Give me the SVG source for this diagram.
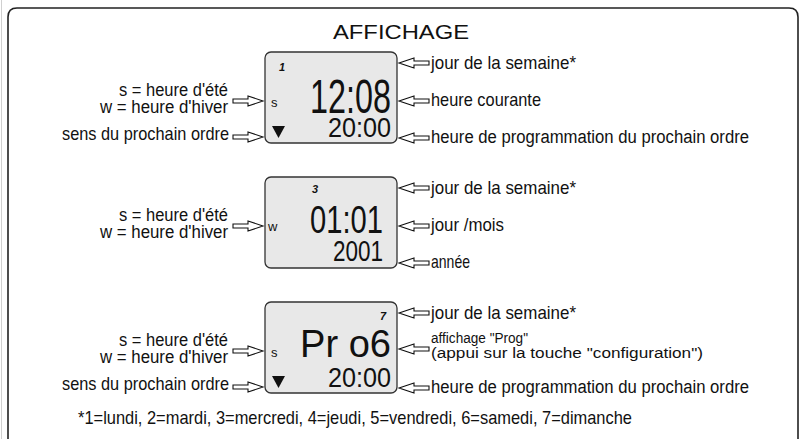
<svg xmlns="http://www.w3.org/2000/svg" width="804" height="439" viewBox="0 0 804 439">
<defs>
<style>
.lbl{font-family:"Liberation Sans Narrow","Liberation Sans",Arial,sans-serif;font-size:19px;fill:#111}
.lng{font-family:"Liberation Sans Narrow","Liberation Sans",Arial,sans-serif;font-size:18px;fill:#111}
.lb2{font-family:"Liberation Sans Narrow","Liberation Sans",Arial,sans-serif;font-size:18px;fill:#111}
.sm{font-family:"Liberation Sans Narrow","Liberation Sans",Arial,sans-serif;font-size:15.5px;fill:#111}
.title{font-family:"Liberation Sans",Arial,sans-serif;font-size:19.5px;fill:#111}
.lcd{fill:#e8e8e8;stroke:#333;stroke-width:1.3}
.seg{font-family:"Liberation Sans",Arial,sans-serif;font-weight:normal;fill:#111}
.day{font-family:"Liberation Sans",Arial,sans-serif;font-size:11px;font-style:italic;font-weight:bold;fill:#111}
.ind{font-family:"Liberation Sans",Arial,sans-serif;font-size:13px;fill:#111}
.arr{fill:#fff;stroke:#111;stroke-width:1.1;stroke-linejoin:miter}
</style>
<polygon id="arrL" class="arr" points="0,0 15,-5 15,-2 30,-2 30,2 15,2 15,5"/>
<polygon id="arrR" class="arr" points="0,0 -15,-5 -15,-2 -30,-2 -30,2 -15,2 -15,5"/>
</defs>
<rect width="804" height="439" fill="#fff"/>
<line x1="1.5" y1="0" x2="1.5" y2="439" stroke="#d0d0d0" stroke-width="1"/>
<path d="M8,439 V17 Q8,8 17,8 H789 Q798,8 798,17 V439" fill="none" stroke="#222" stroke-width="1.6"/>
<text class="title" x="333" y="39" textLength="136" lengthAdjust="spacingAndGlyphs">AFFICHAGE</text>

<g id="display1">
<rect class="lcd" x="265" y="52" width="132" height="91" rx="6"/>
<text class="day" x="279" y="71">1</text>
<text class="ind" x="271" y="107">s</text>
<polygon points="272,126 285,126 278.5,138" fill="#111"/>
<text class="seg" x="310" y="113" font-size="48" textLength="81" lengthAdjust="spacingAndGlyphs">12:08</text>
<text class="seg" x="328" y="137" font-size="27" textLength="63" lengthAdjust="spacingAndGlyphs">20:00</text>
</g>
<g id="display2">
<rect class="lcd" x="265" y="177" width="132" height="91" rx="6"/>
<text class="day" x="312" y="193">3</text>
<text class="ind" x="268" y="231">w</text>
<text class="seg" x="310" y="233" font-size="39" textLength="73" lengthAdjust="spacingAndGlyphs">01:01</text>
<text class="seg" x="333" y="261" font-size="29" textLength="50" lengthAdjust="spacingAndGlyphs">2001</text>
</g>
<g id="display3">
<rect class="lcd" x="265" y="302" width="132" height="91" rx="6"/>
<text class="day" x="380" y="320">7</text>
<text class="ind" x="271" y="357">s</text>
<polygon points="272,376 285,376 278.5,388" fill="#111"/>
<text class="seg" x="300" y="357" font-size="38" textLength="91" lengthAdjust="spacingAndGlyphs">Pr o6</text>
<text class="seg" x="328" y="387" font-size="27" textLength="63" lengthAdjust="spacingAndGlyphs">20:00</text>
</g>

<g id="labels-left">
<text class="lb2" x="119" y="96" textLength="109" lengthAdjust="spacingAndGlyphs">s = heure d'été</text>
<text class="lb2" x="100" y="113" textLength="128" lengthAdjust="spacingAndGlyphs">w = heure d'hiver</text>
<text class="lbl" x="62" y="140" textLength="167" lengthAdjust="spacingAndGlyphs">sens du prochain ordre</text>
<text class="lb2" x="119" y="221" textLength="109" lengthAdjust="spacingAndGlyphs">s = heure d'été</text>
<text class="lb2" x="100" y="238" textLength="128" lengthAdjust="spacingAndGlyphs">w = heure d'hiver</text>
<text class="lb2" x="119" y="346" textLength="109" lengthAdjust="spacingAndGlyphs">s = heure d'été</text>
<text class="lb2" x="100" y="363" textLength="128" lengthAdjust="spacingAndGlyphs">w = heure d'hiver</text>
<text class="lbl" x="62" y="390" textLength="167" lengthAdjust="spacingAndGlyphs">sens du prochain ordre</text>
</g>
<g id="labels-right">
<text class="lbl" x="431" y="69" textLength="145" lengthAdjust="spacingAndGlyphs">jour de la semaine*</text>
<text class="lbl" x="431" y="106" textLength="110" lengthAdjust="spacingAndGlyphs">heure courante</text>
<text class="lng" x="431" y="143" textLength="318" lengthAdjust="spacingAndGlyphs">heure de programmation du prochain ordre</text>
<text class="lbl" x="431" y="194" textLength="145" lengthAdjust="spacingAndGlyphs">jour de la semaine*</text>
<text class="lbl" x="431" y="231" textLength="73" lengthAdjust="spacingAndGlyphs">jour /mois</text>
<text class="lbl" x="431" y="268" textLength="39" lengthAdjust="spacingAndGlyphs">année</text>
<text class="lbl" x="431" y="319" textLength="145" lengthAdjust="spacingAndGlyphs">jour de la semaine*</text>
<text class="sm" x="431" y="343" textLength="97" lengthAdjust="spacingAndGlyphs">affichage "Prog"</text>
<text class="sm" x="431" y="358" textLength="272" lengthAdjust="spacingAndGlyphs">(appui sur la touche "configuration")</text>
<text class="lng" x="431" y="393" textLength="318" lengthAdjust="spacingAndGlyphs">heure de programmation du prochain ordre</text>
<text class="lbl" x="78" y="424" textLength="554" lengthAdjust="spacingAndGlyphs">*1=lundi, 2=mardi, 3=mercredi, 4=jeudi, 5=vendredi, 6=samedi, 7=dimanche</text>
</g>

<g id="connectors">
<use href="#arrR" x="263" y="101"/>
<use href="#arrR" x="263" y="137"/>
<use href="#arrR" x="263" y="226"/>
<use href="#arrR" x="263" y="351"/>
<use href="#arrR" x="263" y="387"/>
<use href="#arrL" x="399" y="63"/>
<use href="#arrL" x="399" y="101"/>
<use href="#arrL" x="399" y="138"/>
<use href="#arrL" x="399" y="188"/>
<use href="#arrL" x="399" y="226"/>
<use href="#arrL" x="399" y="263"/>
<use href="#arrL" x="399" y="313"/>
<use href="#arrL" x="399" y="349"/>
<use href="#arrL" x="399" y="388"/>
</g>
</svg>
